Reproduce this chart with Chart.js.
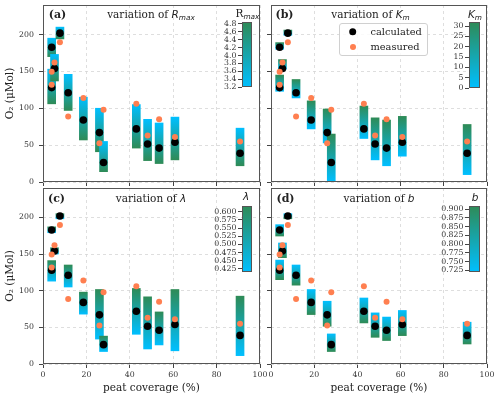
<!DOCTYPE html>
<html>
<head>
<meta charset="utf-8">
<script src="https://cdn.jsdelivr.net/npm/chart.js@4/dist/chart.umd.min.js"></script>
<style>
body { margin: 0; background: #fff; }
#fig { position: relative; width: 500px; height: 398px; overflow: hidden; font-family: "DejaVu Serif", serif; color: #222; }
canvas { position: absolute; }
.t { position: absolute; white-space: nowrap; transform: translate(-50%, -50%); line-height: 1; }
.lab { font-weight: bold; font-size: 11px; }
.ttl { font-size: 10.5px; }
.m { font-family: "DejaVu Sans", sans-serif; font-style: italic; }
sub { font-size: 70%; vertical-align: -0.3em; line-height: 0; }
#legend { position: absolute; left: 339px; top: 23px; width: 87px; height: 31px; border: 1px solid #d0d0d0; border-radius: 3px; background: rgba(255,255,255,0.85); }
.dot { position: absolute; border-radius: 50%; transform: translate(-50%, -50%); }
.lt { position: absolute; font-size: 9.8px; transform: translateY(-50%); white-space: nowrap; line-height: 1; }
</style>
</head>
<body>
<div id="fig">
  <canvas id="pa" width="265" height="190" style="left:0;top:0"></canvas>
  <canvas id="pb" width="230" height="190" style="left:262px;top:0"></canvas>
  <canvas id="pc" width="272" height="215" style="left:0;top:183px"></canvas>
  <canvas id="pd" width="238" height="215" style="left:262px;top:183px"></canvas>
  <canvas id="ca" width="46" height="85" style="left:210px;top:12px"></canvas>
  <canvas id="cb" width="47" height="86" style="left:437px;top:12px"></canvas>
  <canvas id="cc" width="46" height="86" style="left:210px;top:196px"></canvas>
  <canvas id="cd" width="47" height="86" style="left:437px;top:196px"></canvas>

  <div class="t lab" style="left:57.5px;top:14px">(a)</div>
  <div class="t lab" style="left:284.5px;top:14px">(b)</div>
  <div class="t lab" style="left:56.5px;top:198px">(c)</div>
  <div class="t lab" style="left:285.5px;top:198px">(d)</div>

  <div class="t ttl" style="left:151px;top:14px">variation of <span class="m">R<sub>max</sub></span></div>
  <div class="t ttl" style="left:370.5px;top:14px">variation of <span class="m">K<sub>m</sub></span></div>
  <div class="t ttl" style="left:151px;top:198px">variation of <span class="m">λ</span></div>
  <div class="t ttl" style="left:379px;top:198px">variation of <span class="m">b</span></div>

  <div class="t ttl" style="left:247.5px;top:13px">R<sub class="m">max</sub></div>
  <div class="t ttl" style="left:475px;top:14px"><span class="m">K<sub>m</sub></span></div>
  <div class="t ttl" style="left:246px;top:196px"><span class="m">λ</span></div>
  <div class="t ttl" style="left:475px;top:196.5px"><span class="m">b</span></div>

  <div id="legend"></div>
  <div class="dot" style="left:352.7px;top:31.7px;width:7.6px;height:7.6px;background:#000"></div>
  <div class="dot" style="left:352.7px;top:46.7px;width:6px;height:6px;background:coral"></div>
  <div class="lt" style="left:370.5px;top:31.7px">calculated</div>
  <div class="lt" style="left:370.5px;top:46.7px">measured</div>
</div>
<script>
// peat coverage (%) of each site, same order in every array below
const peat = [4.0, 4.0, 5.3, 7.8, 11.6, 18.6, 26.0, 27.9, 43.0, 48.2, 53.5, 60.8, 90.8];
const calculated = [182.7, 128, 154, 201.8, 121, 84, 67, 26.4, 72, 51.5, 46, 53.8, 39];
const measured = [149.4, 131.7, 162, 189.5, 88.8, 114, 52.4, 98, 106, 63, 85, 61, 55];

// O2 range when one parameter is varied
const rmaxLow  = [170, 106, 137, 194, 97, 57, 41, 14, 46, 29, 25, 30, 22];
const rmaxHigh = [195, 153, 173, 210, 146, 115, 100, 55, 105, 85, 80, 88, 73];
const kmLow  = [180, 123, 153, 199, 114, 72, 53, 0, 59, 30, 22, 35, 10];
const kmHigh = [189, 145, 166, 206, 139, 110, 99, 65, 103, 87, 84, 89, 78];
const lambdaLow  = [179, 113, 150, 198, 105, 68, 34, 17, 40.5, 20.5, 26, 18, 11.4];
const lambdaHigh = [187, 141, 158.5, 205, 135, 98, 101.6, 38, 103, 91.6, 71, 101.6, 92.5];
const bLow  = [174.5, 115, 145, 198, 107.5, 67.4, 51.5, 17, 56, 36.4, 32, 38.7, 27.3];
const bHigh = [190, 141.7, 165, 205, 135, 101.6, 85.6, 41, 90, 69.7, 64, 73, 57];

const peatTicks = [0, 20, 40, 60, 80, 100];
const o2Ticks = [0, 50, 100, 150, 200];
const rmaxTicks = [3.2, 3.4, 3.6, 3.8, 4.0, 4.2, 4.4, 4.6, 4.8];
const kmTicks = [0, 5, 10, 15, 20, 25, 30];
const lambdaTicks = [0.425, 0.45, 0.475, 0.5, 0.525, 0.55, 0.575, 0.6];
const bTicks = [0.725, 0.75, 0.775, 0.8, 0.825, 0.85, 0.875, 0.9];

const cyan = '#00bfff';
const green = '#2e8b57';
const tickFont = { family: 'DejaVu Serif', size: 7.8 };
const labelFont = { family: 'DejaVu Serif', size: 10.5 };

const frame = {
  id: 'frame',
  afterDatasetsDraw(chart) {
    const a = chart.chartArea, ctx = chart.ctx;
    ctx.save();
    ctx.strokeStyle = '#555';
    ctx.lineWidth = 1;
    ctx.strokeRect(a.left + 0.5, a.top + 0.5, a.right - a.left - 1, a.bottom - a.top - 1);
    ctx.restore();
  }
};

function panel(id, low, high, topColor, bottomColor, showX, showY, padRight) {
  const grad = function(c) {
    const ys = c.chart.scales.y;
    if (!ys || c.type !== 'data' || !c.raw) return topColor;
    const r = c.raw.y;
    const y1 = ys.getPixelForValue(r[1]), y0 = ys.getPixelForValue(r[0]);
    if (!isFinite(y1) || !isFinite(y0) || y1 === y0) return topColor;
    const g = c.chart.ctx.createLinearGradient(0, y1, 0, y0);
    g.addColorStop(0, topColor);
    g.addColorStop(1, bottomColor);
    return g;
  };
  new Chart(document.getElementById(id), {
    type: 'bar',
    data: {
      datasets: [
        { type: 'scatter', data: peat.map((x, i) => ({ x: x, y: measured[i] })), backgroundColor: 'coral', borderWidth: 0, pointRadius: 3, order: 1 },
        { type: 'scatter', data: peat.map((x, i) => ({ x: x, y: calculated[i] })), backgroundColor: '#000', borderWidth: 0, pointRadius: 3.8, order: 2 },
        { type: 'bar', data: peat.map((x, i) => ({ x: x, y: [low[i], high[i]] })), backgroundColor: grad, borderWidth: 0, barThickness: 8, order: 3 }
      ]
    },
    options: {
      responsive: false,
      animation: false,
      events: [],
      layout: { padding: { left: 0, top: 5, right: padRight, bottom: 0 } },
      scales: {
        x: {
          type: 'linear', min: 0, max: 100, offset: false,
          afterBuildTicks: s => { s.ticks = peatTicks.map(v => ({ value: v })); },
          ticks: { display: showX, font: tickFont, color: '#333', padding: 2, maxRotation: 0, autoSkip: false },
          grid: { color: '#d6d6d6', lineWidth: 0.8, offset: false, tickLength: 4, tickColor: '#444', tickWidth: 1 },
          border: { display: false, dash: [3, 3] },
          title: { display: showX, text: 'peat coverage (%)', font: labelFont, color: '#222', padding: { top: 0, bottom: 3 } },
          afterFit: s => { s.height = showX ? 34 : 8; s.paddingLeft = 0; s.paddingRight = 0; }
        },
        y: {
          min: 0, max: 240,
          afterBuildTicks: s => { s.ticks = o2Ticks.map(v => ({ value: v })); },
          ticks: { display: showY, font: tickFont, color: '#333', padding: 5, autoSkip: false },
          grid: { color: '#d6d6d6', lineWidth: 0.8, tickLength: 4, tickColor: '#444', tickWidth: 1 },
          border: { display: false, dash: [3, 3] },
          title: { display: showY, text: 'O₂ (μMol)', font: labelFont, color: '#222', padding: { top: 4, bottom: 0 } },
          afterFit: s => { s.width = showY ? 43 : 9; s.paddingTop = 0; s.paddingBottom = 0; }
        }
      },
      plugins: { legend: { display: false }, tooltip: { enabled: false } }
    },
    plugins: [frame]
  });
}

function colorbar(id, lo, hi, ticks, dec) {
  new Chart(document.getElementById(id), {
    type: 'bar',
    data: {
      labels: [''],
      datasets: [{
        data: [[lo, hi]],
        backgroundColor: c => {
          const a = c.chart.chartArea;
          if (!a || !isFinite(a.top) || !isFinite(a.bottom) || a.top === a.bottom) return cyan;
          const g = c.chart.ctx.createLinearGradient(0, a.bottom, 0, a.top);
          g.addColorStop(0, cyan);
          g.addColorStop(1, green);
          return g;
        },
        borderWidth: 0, barPercentage: 1, categoryPercentage: 1
      }]
    },
    options: {
      responsive: false,
      animation: false,
      events: [],
      layout: { padding: { left: 0, top: 10, right: 4, bottom: 10 } },
      scales: {
        x: { display: false },
        y: {
          min: lo, max: hi,
          afterBuildTicks: s => { s.ticks = ticks.map(v => ({ value: v })); },
          ticks: { font: tickFont, color: '#333', padding: 1.5, autoSkip: false, callback: v => Number(v).toFixed(dec) },
          grid: { drawOnChartArea: false, tickLength: 4, tickColor: '#444', tickWidth: 1 },
          border: { display: false },
          afterFit: s => { s.width = 32; s.paddingTop = 0; s.paddingBottom = 0; }
        }
      },
      plugins: { legend: { display: false }, tooltip: { enabled: false } }
    },
    plugins: [frame]
  });
}

panel('pa', rmaxLow, rmaxHigh, cyan, green, false, true, 5);
panel('pb', kmLow, kmHigh, green, cyan, false, false, 5);
panel('pc', lambdaLow, lambdaHigh, green, cyan, true, true, 12);
panel('pd', bLow, bHigh, cyan, green, true, false, 13);

colorbar('ca', 3.2, 4.85, rmaxTicks, 1);
colorbar('cb', 0, 32, kmTicks, 0);
colorbar('cc', 0.415, 0.618, lambdaTicks, 3);
colorbar('cd', 0.72, 0.909, bTicks, 3);
</script>
</body>
</html>
